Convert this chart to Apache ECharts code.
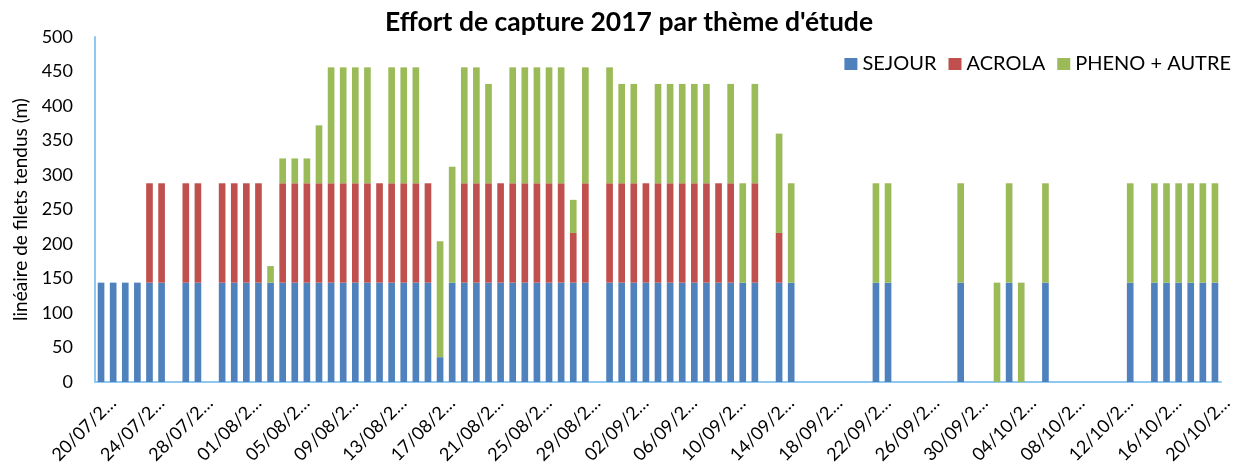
<!DOCTYPE html>
<html>
<head>
<meta charset="utf-8">
<script src="https://cdn.jsdelivr.net/npm/echarts@6/dist/echarts.min.js"></script>
<style>
  html, body { margin: 0; padding: 0; background: #fff; }
  #chart { width: 1237px; height: 463px; }
</style>
</head>
<body>
<div id="chart"></div>
<script>
// jours du 20/07/2017 au 20/10/2017
const dates = [];
const start = new Date(2017, 6, 20);
for (let d = new Date(start); d <= new Date(2017, 9, 20); d.setDate(d.getDate() + 1)) {
    const dd = String(d.getDate()).padStart(2, '0');
    const mm = String(d.getMonth() + 1).padStart(2, '0');
    dates.push(dd + '/' + mm + '/' + d.getFullYear());
}

const seriesNames = ['SEJOUR', 'ACROLA', 'PHENO + AUTRE'];

// mètres de filets par jour (null = pas de capture)
const sejour = [
    144, 144, 144, 144, 144, 144, null, 144, 144, null,
    144, 144, 144, 144, 144, 144, 144, 144, 144, 144,
    144, 144, 144, 144, 144, 144, 144, 144, 36, 144,
    144, 144, 144, 144, 144, 144, 144, 144, 144, 144,
    144, null, 144, 144, 144, 144, 144, 144, 144, 144,
    144, 144, 144, 144, 144, null, 144, 144, null, null,
    null, null, null, null, 144, 144, null, null, null, null,
    null, 144, null, null, null, 144, null, null, 144, null,
    null, null, null, null, null, 144, null, 144, 144, 144,
    144, 144, 144
];
const acrola = [
    null, null, null, null, 144, 144, null, 144, 144, null,
    144, 144, 144, 144, null, 144, 144, 144, 144, 144,
    144, 144, 144, 144, 144, 144, 144, 144, null, null,
    144, 144, 144, 144, 144, 144, 144, 144, 144, 72,
    144, null, 144, 144, 144, 144, 144, 144, 144, 144,
    144, 144, 144, null, 144, null, 72, null, null, null,
    null, null, null, null, null, null, null, null, null, null,
    null, null, null, null, null, null, null, null, null, null,
    null, null, null, null, null, null, null, null, null, null,
    null, null, null
];
const pheno = [
    null, null, null, null, null, null, null, null, null, null,
    null, null, null, null, 24, 36, 36, 36, 84, 168,
    168, 168, 168, null, 168, 168, 168, null, 168, 168,
    168, 168, 144, null, 168, 168, 168, 168, 168, 48,
    168, null, 168, 144, 144, null, 144, 144, 144, 144,
    144, null, 144, 144, 144, null, 144, 144, null, null,
    null, null, null, null, 144, 144, null, null, null, null,
    null, 144, null, null, 144, 144, 144, null, 144, null,
    null, null, null, null, null, 144, null, 144, 144, 144,
    144, 144, 144
];

const colors = ['#4F81BD', '#C0504D', '#9BBB59'];
const font = 'Lato, "Open Sans", sans-serif';

const chart = echarts.init(document.getElementById('chart'));

function barSeries(name, data) {
    return {
        name: name,
        type: 'bar',
        stack: 'total',
        data: data,
        barWidth: '55%'
    };
}

chart.setOption({
    animation: false,
    color: colors,
    title: {
        text: "Effort de capture 2017 par thème d'étude",
        left: 380,
        top: 4,
        textStyle: { fontFamily: font, fontSize: 26.5, fontWeight: 'bold', color: '#000' }
    },
    legend: {
        data: seriesNames,
        right: 1,
        top: 49,
        itemWidth: 13,
        itemHeight: 12,
        itemGap: 12,
        icon: 'rect',
        textStyle: { fontFamily: font, fontSize: 20, color: '#000' }
    },
    grid: { left: 95, right: 16, top: 37, bottom: 81, outerBoundsMode: 'none' },
    xAxis: {
        type: 'category',
        data: dates,
        axisLine: { lineStyle: { color: '#8EC8F0', width: 2 } },
        axisTick: { show: false },
        axisLabel: {
            interval: 3,
            rotate: 45,
            fontFamily: font,
            fontSize: 18,
            color: '#000',
            margin: 6,
            verticalAlign: 'top',
            lineHeight: 34,
            formatter: v => v.slice(0, 7) + '…'
        }
    },
    yAxis: {
        type: 'value',
        min: 0,
        max: 500,
        interval: 50,
        name: 'linéaire de filets tendus (m)',
        nameLocation: 'middle',
        nameGap: 62,
        nameTextStyle: { fontFamily: font, fontSize: 19, color: '#000' },
        axisLine: { show: true, lineStyle: { color: '#8EC8F0', width: 2 } },
        axisTick: { show: false },
        splitLine: { show: false },
        axisLabel: { fontFamily: font, fontSize: 18, color: '#000', margin: 22 }
    },
    series: [
        barSeries(seriesNames[0], sejour),
        barSeries(seriesNames[1], acrola),
        barSeries(seriesNames[2], pheno)
    ]
});
</script>
</body>
</html>
